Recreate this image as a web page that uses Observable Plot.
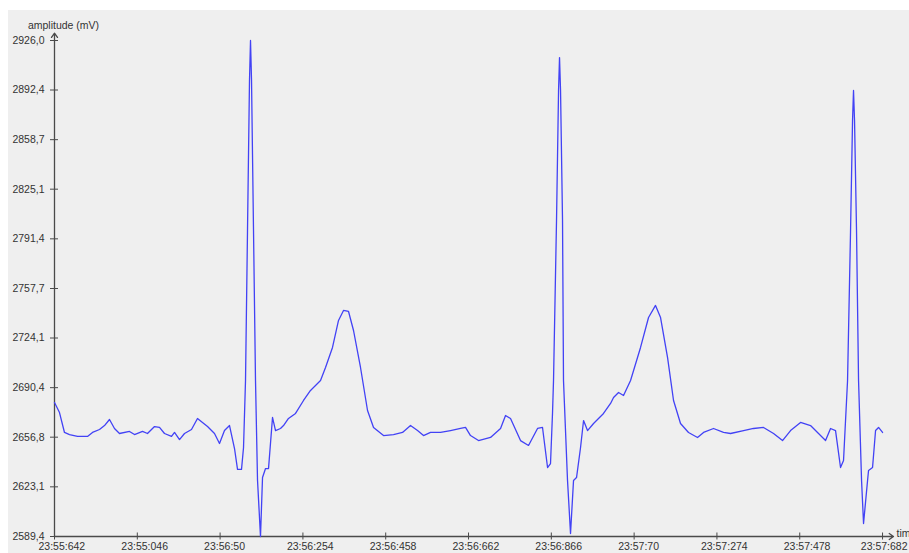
<!DOCTYPE html>
<html>
<head>
<meta charset="utf-8">
<script src="https://cdn.jsdelivr.net/npm/d3@7"></script>
<script src="https://cdn.jsdelivr.net/npm/@observablehq/plot@0.6"></script>
<style>
  html, body { margin: 0; padding: 0; background: #ffffff; overflow: hidden; }
  #chart { margin-left: 8px; margin-top: 10px; width: 901px; height: 543px; overflow: hidden; }
</style>
</head>
<body>
<div id="chart"></div>
<script>
// time offset in ms from 23:55:642
const times = [0, 12.3, 24.6, 37.0, 56.7, 81.3, 93.6, 110.9, 123.2, 135.5, 147.8, 160.1, 184.8, 197.1, 216.8, 229.1,
  246.4, 258.7, 271.0, 288.3, 295.7, 308.0, 320.3, 337.5, 352.3, 364.6, 377.0, 394.2, 406.5, 418.8, 431.2, 443.5,
  450.9, 460.7, 465.7, 470.6, 475.5, 480.4, 482.9, 485.4, 490.3, 495.2, 500.2, 507.5, 512.5, 519.9, 527.3, 537.1,
  544.5, 556.8, 564.2, 576.5, 593.8, 613.5, 630.7, 655.4, 667.7, 684.9, 699.7, 712.0, 724.4, 736.7, 753.9, 771.2,
  786.0, 810.6, 835.2, 857.4, 877.1, 894.4, 909.1, 926.4, 951.0, 975.7, 1000.3, 1012.6, 1024.9, 1044.6, 1074.2,
  1098.9, 1111.2, 1123.5, 1148.1, 1167.8, 1190.0, 1202.3, 1214.7, 1222.0, 1226.9, 1229.4, 1236.8, 1241.8, 1244.2,
  1246.7, 1251.6, 1254.0, 1263.9, 1271.3, 1278.7, 1286.1, 1296.0, 1303.4, 1313.2, 1328.0, 1352.6, 1369.9, 1377.3,
  1389.6, 1401.9, 1419.2, 1443.8, 1463.5, 1480.7, 1493.1, 1510.3, 1525.1, 1542.3, 1562.0, 1584.2, 1599.0, 1623.6,
  1648.2, 1665.5, 1697.6, 1722.2, 1746.8, 1771.5, 1793.6, 1813.4, 1838.0, 1862.6, 1882.3, 1899.6, 1911.9, 1924.2,
  1936.5, 1943.9, 1953.8, 1961.2, 1966.1, 1968.5, 1971.0, 1975.9, 1980.9, 1988.3, 1993.2, 2003.1, 2005.5, 2015.4,
  2022.8, 2030.2, 2040.0];
// amplitude in mV
const amplitudes = [2680.3, 2673.5, 2660.0, 2658.6, 2657.3, 2657.3, 2660.0, 2662.0, 2664.7, 2668.8, 2662.7, 2659.3,
  2660.7, 2658.6, 2660.7, 2659.3, 2664.0, 2663.4, 2659.3, 2657.3, 2660.0, 2655.2, 2659.3, 2662.0, 2669.5, 2666.8,
  2664.0, 2659.3, 2652.5, 2661.3, 2664.7, 2649.1, 2634.9, 2634.9, 2649.8, 2695.3, 2797.0, 2898.8, 2926.0, 2898.8,
  2797.0, 2695.3, 2627.4, 2589.4, 2629.4, 2635.5, 2635.5, 2670.2, 2661.3, 2662.7, 2664.7, 2669.5, 2672.9, 2681.7,
  2688.5, 2695.3, 2704.1, 2717.7, 2736.0, 2742.8, 2742.1, 2729.2, 2704.1, 2674.9, 2663.4, 2657.9, 2658.6, 2660.0,
  2664.7, 2661.3, 2657.9, 2660.0, 2660.0, 2661.3, 2662.7, 2663.4, 2657.9, 2654.5, 2656.6, 2662.7, 2671.5, 2669.5,
  2654.5, 2651.2, 2662.7, 2663.4, 2636.2, 2638.9, 2672.9, 2695.3, 2803.8, 2892.1, 2914.4, 2892.1, 2803.8, 2695.3,
  2627.4, 2591.4, 2627.4, 2629.4, 2649.8, 2668.1, 2661.3, 2666.1, 2672.9, 2679.7, 2683.7, 2687.1, 2685.1, 2695.3,
  2717.7, 2738.0, 2746.2, 2738.0, 2710.9, 2681.7, 2666.1, 2660.0, 2656.6, 2660.0, 2662.7, 2660.0, 2659.3, 2661.3,
  2662.7, 2663.4, 2659.3, 2654.5, 2661.3, 2666.8, 2664.7, 2659.3, 2654.5, 2662.7, 2661.3, 2636.2, 2641.0, 2695.3,
  2797.0, 2871.7, 2892.1, 2871.7, 2797.0, 2695.3, 2627.4, 2598.2, 2627.4, 2634.2, 2636.2, 2661.3, 2663.4, 2660.0];

const xTickValues = [0, 204, 408, 612, 816, 1020, 1224, 1428, 1632, 1836, 2040];
const xTickLabels = ["23:55:642", "23:55:046", "23:56:50", "23:56:254", "23:56:458", "23:56:662",
  "23:56:866", "23:57:70", "23:57:274", "23:57:478", "23:57:682"];
const yTickValues = [2589.4, 2623.1, 2656.8, 2690.4, 2724.1, 2757.7, 2791.4, 2825.1, 2858.7, 2892.4, 2926.0];
const yTickLabels = ["2589,4", "2623,1", "2656,8", "2690,4", "2724,1", "2757,7", "2791,4", "2825,1", "2858,7", "2892,4", "2926,0"];
const xMax = 2067;
const yMin = 2589.4, yMax = 2926.0, yArrowTop = 2931;
const yTitle = "amplitude (mV)";
const xTitle = "tim";

const data = times.map((t, i) => ({t, v: amplitudes[i]}));
const axisColor = "#4a4a4a";
const xLabel = (d) => xTickLabels[xTickValues.indexOf(d)];

const chart = Plot.plot({
  width: 901,
  height: 543,
  marginLeft: 46,
  marginRight: 16,
  marginTop: 30,
  marginBottom: 17,
  style: {background: "#efefef", fontFamily: "Liberation Sans, Arial, sans-serif", fontSize: "10.5px", color: "#333"},
  x: {domain: [0, xMax]},
  y: {domain: [yMin, yMax]},
  marks: [
    Plot.axisY(yTickValues, {anchor: "left", tickSize: 8, dx: 4, stroke: axisColor, label: null, tickFormat: () => ""}),
    Plot.axisY(yTickValues, {anchor: "left", tickSize: 0, tickPadding: 10, fill: "#333", label: null,
      tickFormat: (d) => yTickLabels[yTickValues.indexOf(d)]}),
    Plot.axisX(xTickValues, {anchor: "bottom", tickSize: 7, dy: -3.5, stroke: axisColor, label: null, tickFormat: () => ""}),
    Plot.axisX(xTickValues.slice(0, -1), {anchor: "bottom", tickSize: 0, tickPadding: 6, textAnchor: "start", dx: -16, fill: "#333", label: null,
      tickFormat: xLabel}),
    Plot.axisX(xTickValues.slice(-1), {anchor: "bottom", tickSize: 0, tickPadding: 6, textAnchor: "end", dx: 25, fill: "#333", label: null,
      tickFormat: xLabel}),
    Plot.arrow([0], {x1: () => 0, x2: () => 0, y1: () => yMin, y2: () => yArrowTop, stroke: axisColor, strokeWidth: 1.3, headLength: 6, headAngle: 70}),
    Plot.arrow([0], {x1: () => 0, x2: () => xMax, y1: () => yMin, y2: () => yMin, stroke: axisColor, strokeWidth: 1.3, headLength: 6, headAngle: 70}),
    Plot.text([yTitle], {x: () => 0, y: () => yMax, text: (d) => d, dx: 9, dy: -15, textAnchor: "middle", fill: "#333"}),
    Plot.text([xTitle], {x: () => xMax, y: () => yMin, text: (d) => d, dx: 3, dy: -3, textAnchor: "start", fill: "#333"}),
    Plot.line(data, {x: "t", y: "v", stroke: "#4242f5", strokeWidth: 1.3})
  ]
});
document.getElementById("chart").appendChild(chart);
</script>
</body>
</html>
